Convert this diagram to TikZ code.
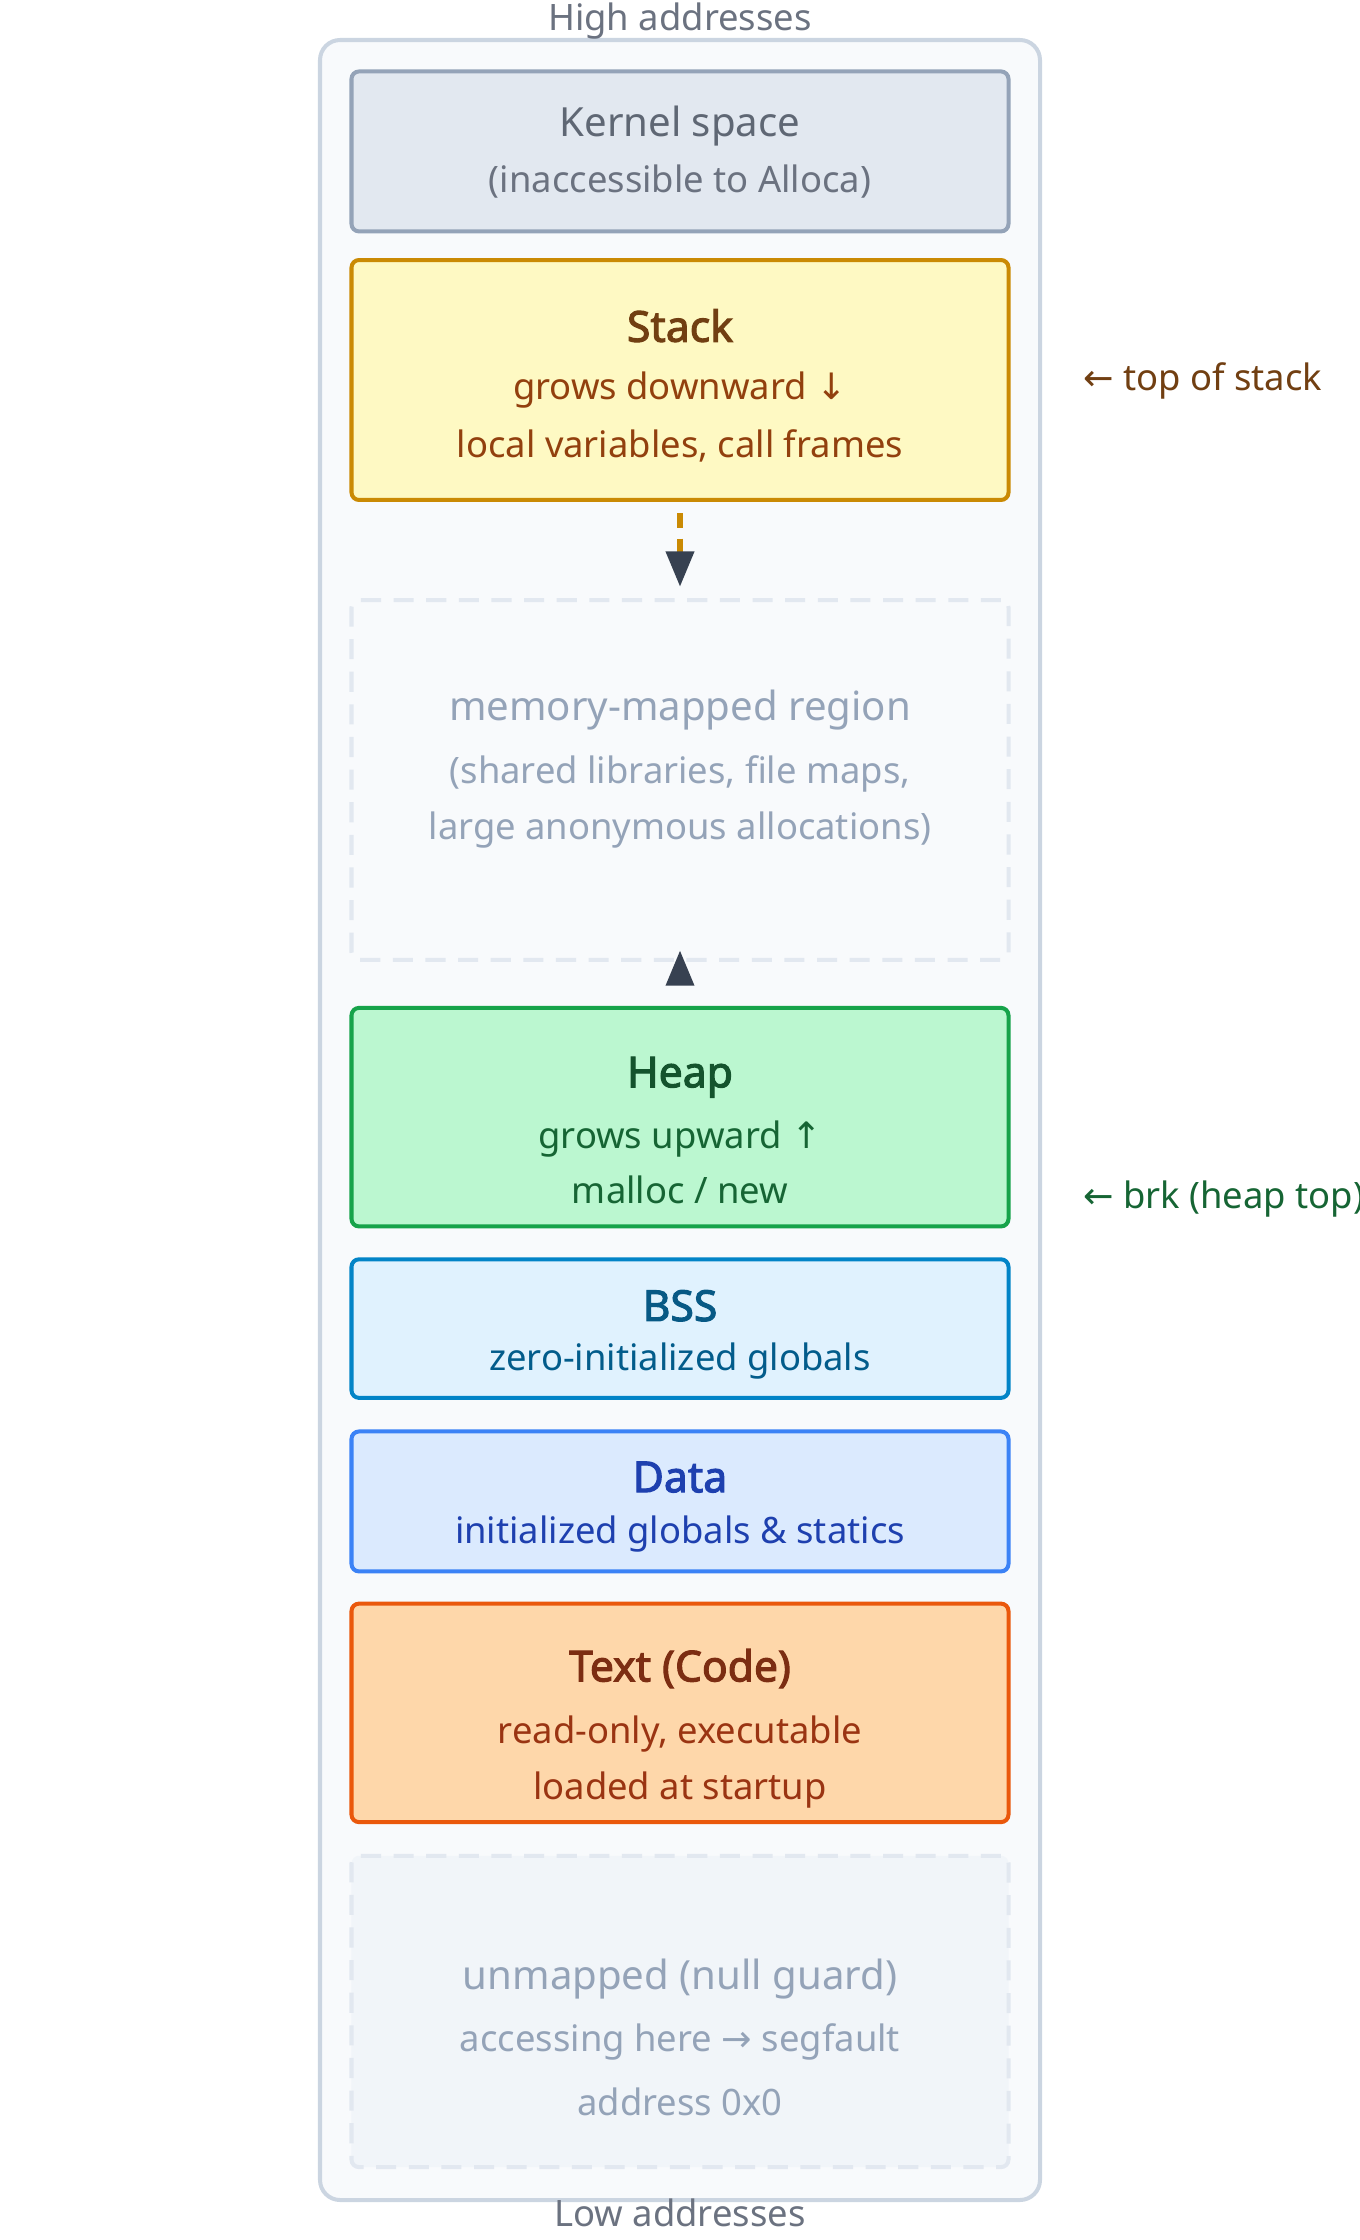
\documentclass[tikz,border=0pt]{standalone}
\usepackage{fontspec}
\setmainfont{Noto Sans}
\newfontfamily\heavysans{Noto Sans}[FakeBold=2.5]
\newfontfamily\sym{DejaVu Sans}
\usetikzlibrary{arrows.meta,positioning}

\definecolor{frameFill}{HTML}{F8FAFC}
\definecolor{frameLine}{HTML}{CBD5E1}
\definecolor{labelGray}{HTML}{6B7280}
\definecolor{kernFill}{HTML}{E2E8F0}
\definecolor{kernLine}{HTML}{94A3B8}
\definecolor{stackFill}{HTML}{FEF9C3}
\definecolor{stackLine}{HTML}{CA8A04}
\definecolor{stackDark}{HTML}{713F12}
\definecolor{stackText}{HTML}{92400E}
\definecolor{heapFill}{HTML}{BBF7D0}
\definecolor{heapLine}{HTML}{16A34A}
\definecolor{heapDark}{HTML}{14532D}
\definecolor{heapText}{HTML}{166534}
\definecolor{bssFill}{HTML}{E0F2FE}
\definecolor{bssLine}{HTML}{0284C7}
\definecolor{bssDark}{HTML}{075985}
\definecolor{dataFill}{HTML}{DBEAFE}
\definecolor{dataLine}{HTML}{3B82F6}
\definecolor{dataDark}{HTML}{1E40AF}
\definecolor{textFill}{HTML}{FED7AA}
\definecolor{textLine}{HTML}{EA580C}
\definecolor{textDark}{HTML}{7C2D12}
\definecolor{textText}{HTML}{9A3412}
\definecolor{nullFill}{HTML}{F1F5F9}
\definecolor{ghost}{HTML}{94A3B8}
\definecolor{arrowDark}{HTML}{374151}

\tikzset{
  seg/.style={draw,line width=1.6pt,rounded corners=3pt,minimum width=9.2cm,inner sep=0pt},
  ghostseg/.style={seg,dashed,dash pattern=on 8pt off 5pt,draw=kernFill},
  title/.style={font=\fontsize{17}{20}\heavysans},
  line/.style={font=\fontsize{14.5}{17}\selectfont},
  big/.style={font=\fontsize{16}{19}\selectfont},
}

\begin{document}
\begin{tikzpicture}[x=0.02cm,y=-0.02cm]
\useasboundingbox (0,0) rectangle (952,1568);

% Rahmen
\draw[frameLine,fill=frameFill,line width=1.6pt,rounded corners=8pt] (224,28) rectangle (728,1540);
\node[line,labelGray] (high) at (476,15) {High addresses};
\node[line,labelGray] (low) at (476,1549) {Low addresses};

% Kernel
\node[seg,draw=kernLine,fill=kernFill,minimum height=2.24cm] (kernel) at (476,106) {};
\node[big,text=arrowDark!80] at (476,88) {Kernel space};
\node[line,text=labelGray] at (476,127) {(inaccessible to Alloca)};

% Stack
\node[seg,draw=stackLine,fill=stackFill,minimum height=3.36cm] (stack) at (476,266) {};
\node[title,stackDark] at (476,228) {Stack};
\node[line,stackText] at (476,273) {grows downward {\sym↓}};
\node[line,stackText] at (476,312) {local variables, call frames};
\node[line,stackDark,anchor=west] (tos) at (752,267) {{\sym←} top of stack};

% mmap
\node[ghostseg,minimum height=5.04cm] (mmap) at (476,546) {};
\node[big,ghost] at (476,497) {memory-mapped region};
\node[line,ghost] at (476,542) {(shared libraries, file maps,};
\node[line,ghost] at (476,581) {large anonymous allocations)};

% Heap
\node[seg,draw=heapLine,fill=heapFill,minimum height=3.06cm] (heap) at (476,782) {};
\node[title,heapDark] at (476,754) {Heap};
\node[line,heapText] at (476,797) {grows upward {\sym↑}};
\node[line,heapText] at (476,833) {malloc / new};
\node[line,heapText,anchor=west] (brk) at (752,839) {{\sym←} brk (heap top)};

% BSS
\node[seg,draw=bssLine,fill=bssFill,minimum height=1.94cm] (bss) at (476,930) {};
\node[title,bssDark] at (476,914) {BSS};
\node[line,bssLine!70!black] at (476,953) {zero-initialized globals};

% Data
\node[seg,draw=dataLine,fill=dataFill,minimum height=1.96cm] (data) at (476,1051) {};
\node[title,dataDark] at (476,1034) {Data};
\node[line,dataDark] at (476,1074) {initialized globals \& statics};

% Text
\node[seg,draw=textLine,fill=textFill,minimum height=3.06cm] (code) at (476,1199) {};
\node[title,textDark] at (476,1168) {Text (Code)};
\node[line,textText] at (476,1214) {read-only, executable};
\node[line,textText] at (476,1253) {loaded at startup};

% Null guard
\node[ghostseg,fill=nullFill,minimum height=4.36cm] (null) at (476,1408) {};
\node[big,ghost] at (476,1385) {unmapped (null guard)};
\node[line,ghost] at (476,1429) {accessing here {\sym→} segfault};
\node[line,ghost] at (476,1471) {address 0x0};

% Wachstumspfeile
\draw[stackLine,line width=2pt,dash pattern=on 6pt off 4pt,-{Triangle[length=14pt,width=11pt,fill=arrowDark,color=arrowDark]},shorten <=0.16cm,shorten >=0.16cm] (stack.south) -- (mmap.north);
\draw[heapLine,line width=2pt,-{Triangle[length=14pt,width=11pt,fill=arrowDark,color=arrowDark]},shorten <=0.32cm,shorten >=-0.16cm] (heap.north) -- (mmap.south);

\end{tikzpicture}
\end{document}
